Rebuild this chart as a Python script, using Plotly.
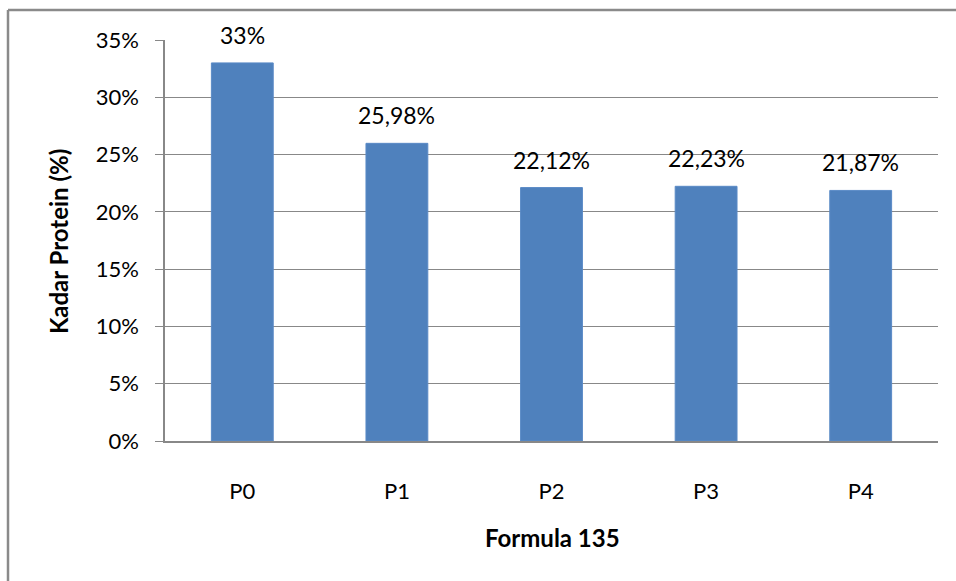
import plotly.graph_objects as go

categories = ["P0", "P1", "P2", "P3", "P4"]
values = [33, 25.98, 22.12, 22.23, 21.87]
value_labels = ["33%", "25,98%", "22,12%", "22,23%", "21,87%"]
y_ticks = [0, 5, 10, 15, 20, 25, 30, 35]
y_ticklabels = [f"{t}%" for t in y_ticks]

FONT = "Lato, 'Open Sans', sans-serif"
GRID = "#888888"

fig = go.Figure()
fig.add_trace(go.Bar(
    x=categories, y=values, width=0.4,
    marker=dict(color="#4F81BD", line=dict(color="#5A8AC6", width=1)),
    hoverinfo="skip",
))

for c, v, t in zip(categories, values, value_labels):
    fig.add_annotation(x=c, y=v, text=t, showarrow=False, yanchor="bottom",
                       yshift=12, font=dict(family=FONT, size=23, color="black"))

# axis titles
fig.add_annotation(xref="paper", yref="paper", x=-0.1384, y=0.496, text="<b>Kadar Protein (%)</b>",
                   textangle=-90, showarrow=False, xanchor="center", yanchor="middle",
                   font=dict(family=FONT, size=24, color="black"))
fig.add_annotation(xref="paper", yref="paper", x=0.501, y=(441 - 537) / 401, text="<b>Formula 135</b>",
                   showarrow=False, xanchor="center", yanchor="middle",
                   font=dict(family=FONT, size=24, color="black"))

# outer chart frame (cropped)
fx = (8 - 165) / 773
fy = (441 - 10) / 401
fig.add_shape(type="line", xref="paper", yref="paper", x0=fx, x1=fx, y0=-0.6, y1=fy,
              line=dict(color="#8a8a8a", width=2.5))
fig.add_shape(type="line", xref="paper", yref="paper", x0=fx, x1=1.2, y0=fy, y1=fy,
              line=dict(color="#8a8a8a", width=2.5))

fig.update_layout(
    width=956, height=581,
    margin=dict(l=165, r=18, t=40, b=140),
    paper_bgcolor="white", plot_bgcolor="white",
    showlegend=False,
    font=dict(family=FONT, size=22, color="black"),
    bargap=0.6,
)
fig.update_yaxes(
    range=[0, 35], tickvals=y_ticks, ticktext=y_ticklabels,
    showgrid=True, gridcolor=GRID, gridwidth=1,
    showline=True, linecolor=GRID, linewidth=1.5,
    ticks="outside", ticklen=8, tickcolor=GRID, ticklabelstandoff=12,
    zeroline=False, tickfont=dict(family=FONT, size=22, color="black"),
)
fig.update_xaxes(
    showline=True, linecolor=GRID, linewidth=1.5,
    ticks="", ticklabelstandoff=30,
    tickfont=dict(family=FONT, size=22, color="black"),
)

fig.write_html("out.html")
